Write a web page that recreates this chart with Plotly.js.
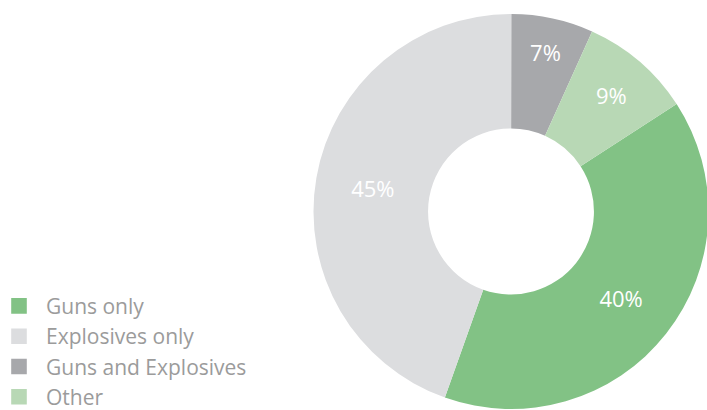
<!DOCTYPE html>
<html>
<head>
<meta charset="utf-8">
<script src="https://cdn.plot.ly/plotly-3.0.1.min.js"></script>
<style>
html, body { margin: 0; padding: 0; overflow: hidden; background: #fff; }
#chart { width: 712px; height: 410px; }
</style>
</head>
<body>
<div id="chart"></div>
<script>
var categories = ["Guns only", "Explosives only", "Guns and Explosives", "Other"];
var shares = [39.6, 44.6, 6.7, 9.1];
var sliceColors = ["#82c285", "#dcdddf", "#a7a8ab", "#b8d8b5"];

var W = 712, H = 410;
var cx = 511, cy = 211.5, R = 197.5;

var trace = {
  type: "pie",
  labels: categories,
  values: shares,
  sort: false,
  direction: "clockwise",
  rotation: 57,
  hole: 0.42,
  marker: { colors: sliceColors, line: { width: 0 } },
  texttemplate: "%{percent:.0%}",
  textposition: "inside",
  insidetextorientation: "horizontal",
  textfont: { family: "Open Sans", size: 22, color: "#ffffff" },
  hoverinfo: "label+percent",
  domain: {
    x: [(cx - R) / W, (cx + R) / W],
    y: [(H - (cy + R)) / H, (H - (cy - R)) / H]
  }
};

var layout = {
  width: W,
  height: H,
  margin: { l: 0, r: 0, t: 0, b: 0, autoexpand: false },
  paper_bgcolor: "#ffffff",
  showlegend: true,
  legend: {
    x: -8 / W,
    xanchor: "left",
    y: 0.303,
    yanchor: "top",
    itemwidth: 44,
    font: { family: "Open Sans", size: 21, color: "#9b9b9b" },
    bgcolor: "rgba(0,0,0,0)",
    traceorder: "normal"
  }
};

Plotly.newPlot("chart", [trace], layout, { displayModeBar: false, staticPlot: true }).then(function (gd) {
  var pts = gd.querySelectorAll(".legendpoints path.legendpie");
  pts.forEach(function (p) {
    var t = p.getAttribute("transform") || "";
    p.setAttribute("transform", t + " scale(1.3)");
  });
});
</script>
</body>
</html>
